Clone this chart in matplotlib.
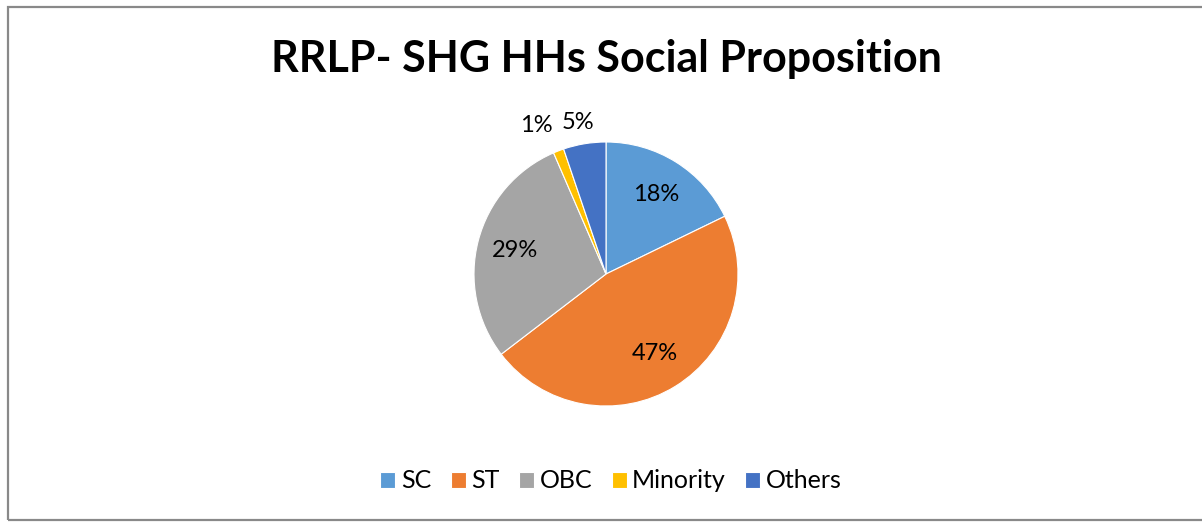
import numpy as np
import matplotlib.pyplot as plt
from matplotlib.patches import Rectangle

plt.rcParams['font.family'] = ['Lato', 'DejaVu Sans']

categories = ['SC', 'ST', 'OBC', 'Minority', 'Others']
shares = [17.8, 46.8, 28.9, 1.3, 5.2]
colors = ['#5B9BD5', '#ED7D31', '#A5A5A5', '#FFC000', '#4472C4']

W, H = 1202, 522
fig = plt.figure(figsize=(W / 100, H / 100), dpi=100)

# Rahmen um das Diagramm
fig.patches.append(Rectangle((8 / W, 2 / H), 1.2, (H - 9) / H, transform=fig.transFigure,
                             fill=False, edgecolor='#898989', linewidth=1.6))

# Kreisdiagramm
cx, cy, half = 606, H - 274, 198
ax = fig.add_axes([(cx - half) / W, (cy - half) / H, 2 * half / W, 2 * half / H])
wedges, texts, autotexts = ax.pie(shares, colors=colors, startangle=90, counterclock=False,
                                  autopct='%1.0f%%', pctdistance=0.71,
                                  wedgeprops=dict(edgecolor='white', linewidth=0.8),
                                  textprops=dict(fontsize=17, color='black'))
ax.set_xlim(-1.5, 1.5)
ax.set_ylim(-1.5, 1.5)
ax.set_aspect('equal')

# kleine Anteile außerhalb beschriften
for w, t, r, shift in zip(wedges[3:], autotexts[3:], [1.24, 1.17], [4, 1]):
    ang = np.deg2rad((w.theta1 + w.theta2) / 2 + shift)
    t.set_position((r * np.cos(ang), r * np.sin(ang)))

fig.text(606 / W, 1 - 59 / H, 'RRLP- SHG HHs Social Proposition', ha='center', va='center',
         fontsize=31, fontweight='bold')

fig.legend(wedges, categories, loc='center', bbox_to_anchor=(611 / W, 41 / H), ncol=5,
           frameon=False, fontsize=18, handlelength=0.6, handleheight=0.6,
           handletextpad=0.22, columnspacing=0.78)

fig.savefig('out.png', dpi=100)
